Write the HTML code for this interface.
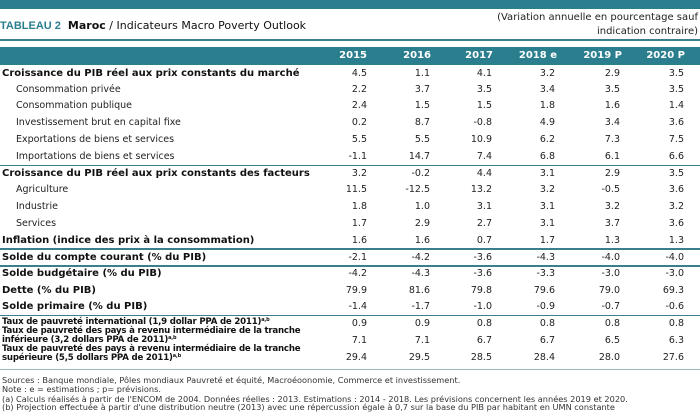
<!DOCTYPE html>
<html><head><meta charset="utf-8"><style>
body{margin:0;width:700px;height:420px;overflow:hidden;background:#fff;font-family:"DejaVu Sans","Liberation Sans",sans-serif;color:#111;position:relative}
div{position:absolute;white-space:nowrap}
.l{left:2px;font-size:10px;font-weight:bold;line-height:12px}
.s{left:16px;font-size:9.5px;line-height:12px;color:#222}
.n{font-size:9.5px;line-height:12px;text-align:right;width:60px;color:#222}
.hl{left:0;width:700px;height:1px;background:#3c7f8c}
.h{font-size:10px;font-weight:bold;color:#fff;text-align:right;width:60px;top:50px;line-height:12px}
.p{font-size:8.6px;font-weight:bold;left:2px;line-height:9px;letter-spacing:-0.2px}
.p sup{font-size:5px;line-height:0;vertical-align:3px}
.f{font-size:8.2px;left:2px;color:#333;line-height:9px}
</style></head><body>
<div style="left:0;top:0;width:700px;height:9px;background:#2b7e8e"></div>
<div style="left:0;top:19px;font-size:11px;line-height:14px"><span style="color:#2b7e8e;font-weight:bold;font-family:'Liberation Sans',sans-serif">TABLEAU 2</span>&nbsp; <b>Maroc</b> / Indicateurs Macro Poverty Outlook</div>
<div style="right:2px;top:11px;font-size:10px;line-height:14px;text-align:right;color:#222">(Variation annuelle en pourcentage sauf<br>indication contraire)</div>
<div style="left:0;top:39px;width:700px;height:2px;background:#3c7f8c"></div>
<div style="left:0;top:47px;width:700px;height:18px;background:#2b7e8e"></div>
<div class="h" style="left:307px">2015</div><div class="h" style="left:371px">2016</div><div class="h" style="left:433px">2017</div><div class="h" style="left:497px">2018 e</div><div class="h" style="left:562px">2019 P</div><div class="h" style="left:625px">2020 P</div>

<div class="hl" style="top:165px"></div>
<div class="hl" style="top:248px;height:2px"></div>
<div class="hl" style="top:265px;height:2px"></div>
<div class="hl" style="top:315px"></div>
<div class="hl" style="top:369px;background:#9bb"></div>

<div class="l" style="top:68px">Croissance du PIB réel aux prix constants du marché</div>
<div class="s" style="top:84px">Consommation privée</div>
<div class="s" style="top:100px">Consommation publique</div>
<div class="s" style="top:117px">Investissement brut en capital fixe</div>
<div class="s" style="top:134px">Exportations de biens et services</div>
<div class="s" style="top:151px">Importations de biens et services</div>
<div class="l" style="top:168px">Croissance du PIB réel aux prix constants des facteurs</div>
<div class="s" style="top:184px">Agriculture</div>
<div class="s" style="top:201px">Industrie</div>
<div class="s" style="top:218px">Services</div>
<div class="l" style="top:235px">Inflation (indice des prix à la consommation)</div>
<div class="l" style="top:252px">Solde du compte courant (% du PIB)</div>
<div class="l" style="top:268px">Solde budgétaire (% du PIB)</div>
<div class="l" style="top:285px">Dette (% du PIB)</div>
<div class="l" style="top:301px">Solde primaire (% du PIB)</div>
<div class="p" style="top:318px">Taux de pauvreté international (1,9 dollar PPA de 2011)<sup>a,b</sup></div>
<div class="p" style="top:327px">Taux de pauvreté des pays à revenu intermédiaire de la tranche<br>inférieure (3,2 dollars PPA de 2011)<sup>a,b</sup></div>
<div class="p" style="top:345px">Taux de pauvreté des pays à revenu intermédiaire de la tranche<br>supérieure (5,5 dollars PPA de 2011)<sup>a,b</sup></div>

<div class="n" style="left:307px;top:68px">4.5</div><div class="n" style="left:370px;top:68px">1.1</div><div class="n" style="left:432px;top:68px">4.1</div><div class="n" style="left:495px;top:68px">3.2</div><div class="n" style="left:560px;top:68px">2.9</div><div class="n" style="left:624px;top:68px">3.5</div>
<div class="n" style="left:307px;top:84px">2.2</div><div class="n" style="left:370px;top:84px">3.7</div><div class="n" style="left:432px;top:84px">3.5</div><div class="n" style="left:495px;top:84px">3.4</div><div class="n" style="left:560px;top:84px">3.5</div><div class="n" style="left:624px;top:84px">3.5</div>
<div class="n" style="left:307px;top:100px">2.4</div><div class="n" style="left:370px;top:100px">1.5</div><div class="n" style="left:432px;top:100px">1.5</div><div class="n" style="left:495px;top:100px">1.8</div><div class="n" style="left:560px;top:100px">1.6</div><div class="n" style="left:624px;top:100px">1.4</div>
<div class="n" style="left:307px;top:117px">0.2</div><div class="n" style="left:370px;top:117px">8.7</div><div class="n" style="left:432px;top:117px">-0.8</div><div class="n" style="left:495px;top:117px">4.9</div><div class="n" style="left:560px;top:117px">3.4</div><div class="n" style="left:624px;top:117px">3.6</div>
<div class="n" style="left:307px;top:134px">5.5</div><div class="n" style="left:370px;top:134px">5.5</div><div class="n" style="left:432px;top:134px">10.9</div><div class="n" style="left:495px;top:134px">6.2</div><div class="n" style="left:560px;top:134px">7.3</div><div class="n" style="left:624px;top:134px">7.5</div>
<div class="n" style="left:307px;top:151px">-1.1</div><div class="n" style="left:370px;top:151px">14.7</div><div class="n" style="left:432px;top:151px">7.4</div><div class="n" style="left:495px;top:151px">6.8</div><div class="n" style="left:560px;top:151px">6.1</div><div class="n" style="left:624px;top:151px">6.6</div>
<div class="n" style="left:307px;top:168px">3.2</div><div class="n" style="left:370px;top:168px">-0.2</div><div class="n" style="left:432px;top:168px">4.4</div><div class="n" style="left:495px;top:168px">3.1</div><div class="n" style="left:560px;top:168px">2.9</div><div class="n" style="left:624px;top:168px">3.5</div>
<div class="n" style="left:307px;top:184px">11.5</div><div class="n" style="left:370px;top:184px">-12.5</div><div class="n" style="left:432px;top:184px">13.2</div><div class="n" style="left:495px;top:184px">3.2</div><div class="n" style="left:560px;top:184px">-0.5</div><div class="n" style="left:624px;top:184px">3.6</div>
<div class="n" style="left:307px;top:201px">1.8</div><div class="n" style="left:370px;top:201px">1.0</div><div class="n" style="left:432px;top:201px">3.1</div><div class="n" style="left:495px;top:201px">3.1</div><div class="n" style="left:560px;top:201px">3.2</div><div class="n" style="left:624px;top:201px">3.2</div>
<div class="n" style="left:307px;top:218px">1.7</div><div class="n" style="left:370px;top:218px">2.9</div><div class="n" style="left:432px;top:218px">2.7</div><div class="n" style="left:495px;top:218px">3.1</div><div class="n" style="left:560px;top:218px">3.7</div><div class="n" style="left:624px;top:218px">3.6</div>
<div class="n" style="left:307px;top:235px">1.6</div><div class="n" style="left:370px;top:235px">1.6</div><div class="n" style="left:432px;top:235px">0.7</div><div class="n" style="left:495px;top:235px">1.7</div><div class="n" style="left:560px;top:235px">1.3</div><div class="n" style="left:624px;top:235px">1.3</div>
<div class="n" style="left:307px;top:252px">-2.1</div><div class="n" style="left:370px;top:252px">-4.2</div><div class="n" style="left:432px;top:252px">-3.6</div><div class="n" style="left:495px;top:252px">-4.3</div><div class="n" style="left:560px;top:252px">-4.0</div><div class="n" style="left:624px;top:252px">-4.0</div>
<div class="n" style="left:307px;top:268px">-4.2</div><div class="n" style="left:370px;top:268px">-4.3</div><div class="n" style="left:432px;top:268px">-3.6</div><div class="n" style="left:495px;top:268px">-3.3</div><div class="n" style="left:560px;top:268px">-3.0</div><div class="n" style="left:624px;top:268px">-3.0</div>
<div class="n" style="left:307px;top:285px">79.9</div><div class="n" style="left:370px;top:285px">81.6</div><div class="n" style="left:432px;top:285px">79.8</div><div class="n" style="left:495px;top:285px">79.6</div><div class="n" style="left:560px;top:285px">79.0</div><div class="n" style="left:624px;top:285px">69.3</div>
<div class="n" style="left:307px;top:301px">-1.4</div><div class="n" style="left:370px;top:301px">-1.7</div><div class="n" style="left:432px;top:301px">-1.0</div><div class="n" style="left:495px;top:301px">-0.9</div><div class="n" style="left:560px;top:301px">-0.7</div><div class="n" style="left:624px;top:301px">-0.6</div>
<div class="n" style="left:307px;top:318px">0.9</div><div class="n" style="left:370px;top:318px">0.9</div><div class="n" style="left:432px;top:318px">0.8</div><div class="n" style="left:495px;top:318px">0.8</div><div class="n" style="left:560px;top:318px">0.8</div><div class="n" style="left:624px;top:318px">0.8</div>
<div class="n" style="left:307px;top:335px">7.1</div><div class="n" style="left:370px;top:335px">7.1</div><div class="n" style="left:432px;top:335px">6.7</div><div class="n" style="left:495px;top:335px">6.7</div><div class="n" style="left:560px;top:335px">6.5</div><div class="n" style="left:624px;top:335px">6.3</div>
<div class="n" style="left:307px;top:352px">29.4</div><div class="n" style="left:370px;top:352px">29.5</div><div class="n" style="left:432px;top:352px">28.5</div><div class="n" style="left:495px;top:352px">28.4</div><div class="n" style="left:560px;top:352px">28.0</div><div class="n" style="left:624px;top:352px">27.6</div>

<div class="f" style="top:376px">Sources : Banque mondiale, Pôles mondiaux Pauvreté et équité, Macroéoonomie, Commerce et investissement.</div>
<div class="f" style="top:385px">Note : e = estimations ; p= prévisions.</div>
<div class="f" style="top:395px">(a) Calculs réalisés à partir de l'ENCOM de 2004. Données réelles : 2013. Estimations : 2014 - 2018. Les prévisions concernent les années 2019 et 2020.</div>
<div class="f" style="top:403px">(b) Projection effectuée à partir d'une distribution neutre (2013) avec une répercussion égale à 0,7 sur la base du PIB par habitant en UMN constante</div>
</body></html>
